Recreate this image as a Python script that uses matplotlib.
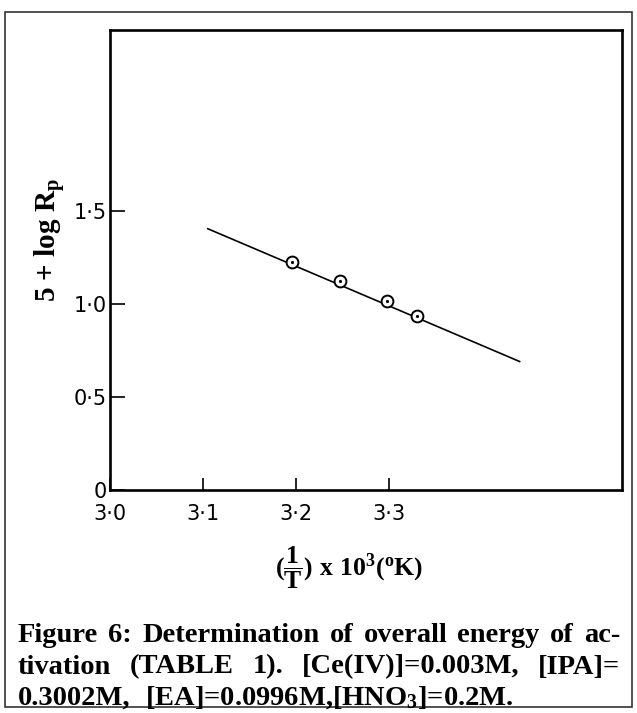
#! /usr/bin/env python3
# Arrhenius-type plot: 5 + log Rp against 1/T x 10^3

import matplotlib
matplotlib.use('Agg')
import matplotlib.pyplot as plt
import matplotlib.patches as patches

# data
inv_t = [3.195, 3.247, 3.298, 3.330]
log_rp = [1.224, 1.120, 1.016, 0.935]
fit_x = [3.105, 3.44]
fit_y = [1.403, 0.690]

xticks = [3.0, 3.1, 3.2, 3.3]
xticklabels = ['3\u00b70', '3\u00b71', '3\u00b72', '3\u00b73']
yticks = [0, 0.5, 1.0, 1.5]
yticklabels = ['0', '0\u00b75', '1\u00b70', '1\u00b75']

caption = [
    'Figure 6: Determination of overall energy of ac-',
    'tivation (TABLE 1). [Ce(IV)]=0.003M, [IPA]=',
    '0.3002M, [EA]=0.0996M,[HNO$_3$]=0.2M.',
]

plt.rcParams['mathtext.fontset'] = 'custom'
plt.rcParams['mathtext.rm'] = 'Liberation Serif:bold'
plt.rcParams['mathtext.it'] = 'Liberation Serif:bold'
plt.rcParams['mathtext.bf'] = 'Liberation Serif:bold'

W, H = 637, 713
fig = plt.figure(figsize=(W / 100, H / 100), dpi=100, facecolor='white')

# outer frame
fig.patches.append(patches.Rectangle((5 / W, 1 - 707 / H), 627 / W, 695 / H,
                                     transform=fig.transFigure, fill=False,
                                     edgecolor='#333333', lw=1.2))

ax = fig.add_axes([110 / W, 1 - 490 / H, 512 / W, 460 / H])
ax.plot(fit_x, fit_y, color='black', lw=1.2, zorder=2)
ax.plot(inv_t, log_rp, 'o', ms=8.5, mfc='white', mec='black', mew=1.4, zorder=3)
ax.plot(inv_t, log_rp, '.', ms=2.5, color='black', zorder=4)

ax.set_xlim(3.0, 3.55)
ax.set_ylim(0, 2.47)
for s in ax.spines.values():
    s.set_linewidth(1.9)

ax.set_xticks(xticks)
ax.set_xticklabels(xticklabels)
ax.set_yticks(yticks)
ax.set_yticklabels(yticklabels)
ax.tick_params(axis='x', direction='in', length=9, width=1.2, pad=10, labelsize=15)
ax.tick_params(axis='y', direction='in', length=11, width=1.2, pad=2, labelsize=15)

fig.text(50 / W, 1 - 240 / H, r'5 + log R$_\mathrm{p}$', rotation=90,
         ha='center', va='center', fontsize=21, fontweight='bold',
         family='Liberation Serif')
fig.text(349 / W, 1 - 568 / H,
         r'$(\dfrac{1}{T})\ \mathrm{x}\ 10^{3}(^{o}\mathrm{K})$',
         ha='center', va='center', fontsize=18.5)

# caption, justified on the first two lines
renderer = fig.canvas.get_renderer()
x0, x1 = 18, 620
base_y = [636, 667, 698]
for i, line in enumerate(caption):
    words = line.split(' ')
    arts = []
    for w in words:
        t = fig.text(0, 0, w, fontsize=20.5, fontweight='bold',
                     family='Liberation Serif', va='center', ha='left')
        arts.append(t)
    widths = [a.get_window_extent(renderer).width for a in arts]
    if i < 2:
        gap = (x1 - x0 - sum(widths)) / (len(words) - 1)
    else:
        gap = 14
    x = x0
    for a, w in zip(arts, widths):
        a.set_position((x / W, 1 - base_y[i] / H))
        x += w + gap

fig.savefig('out.png', dpi=100, facecolor='white')
